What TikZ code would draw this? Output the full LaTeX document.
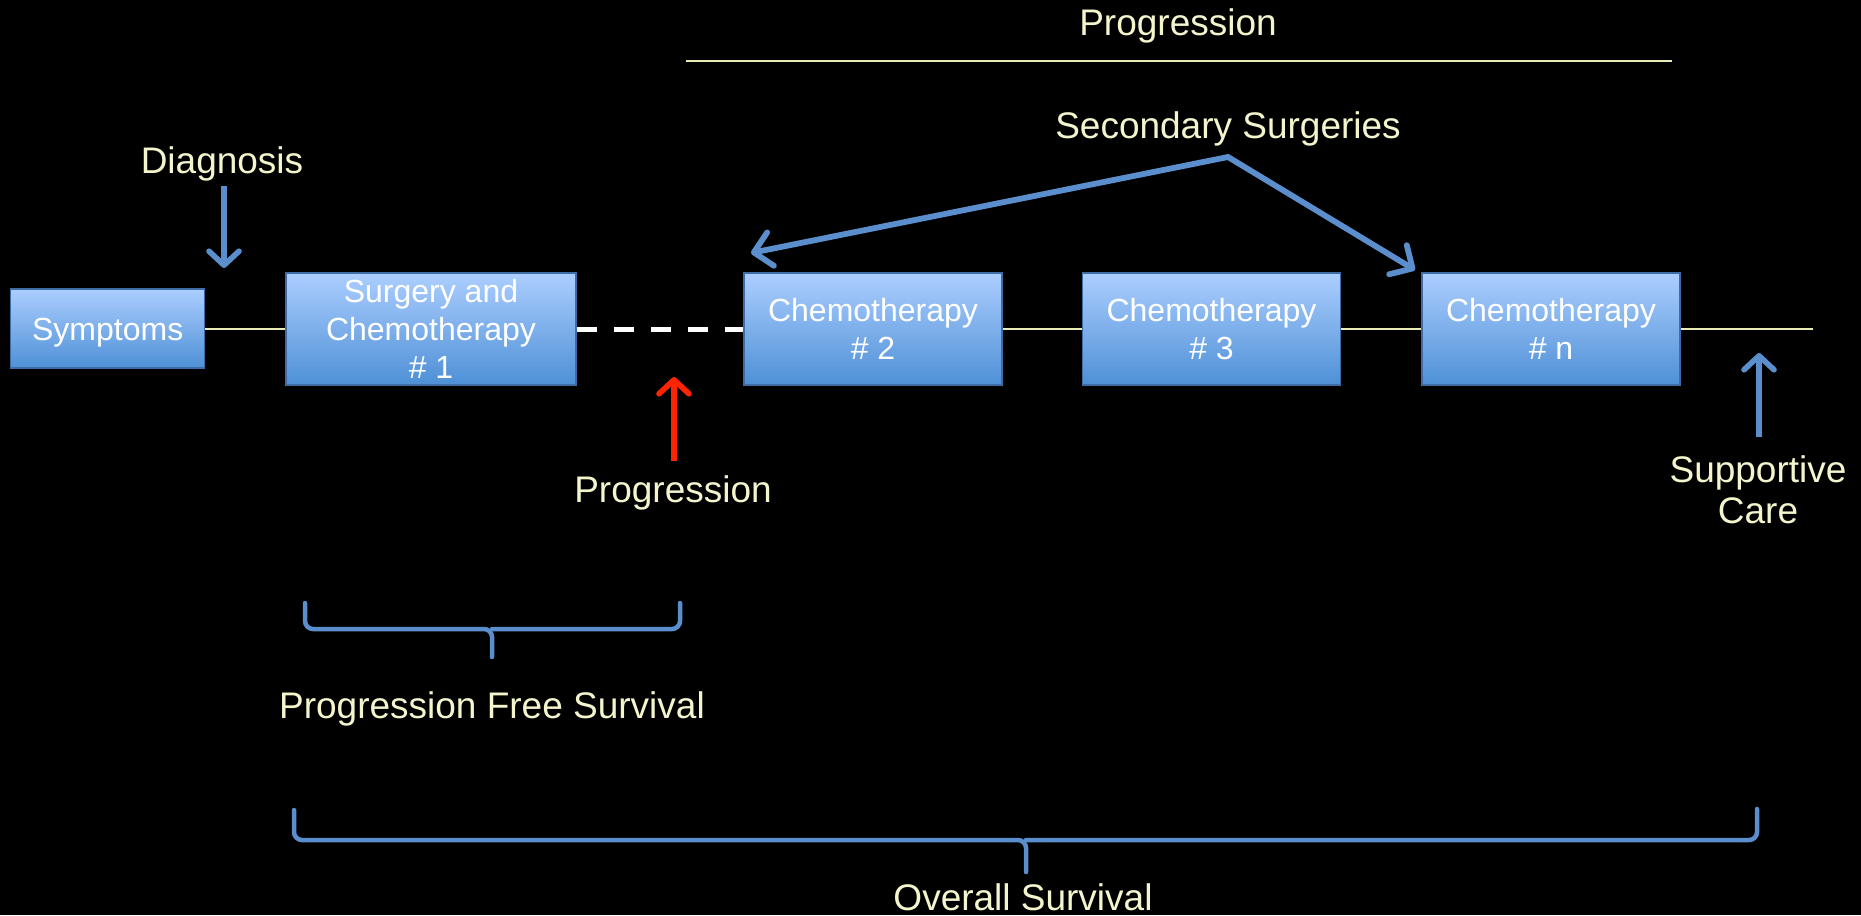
\documentclass[tikz,border=0pt]{standalone}
\usepackage{fontspec}
\setmainfont{Liberation Sans}
\usetikzlibrary{arrows.meta}
\definecolor{cream}{RGB}{245,245,205}
\definecolor{abl}{RGB}{90,142,204}
\definecolor{boxtop}{RGB}{172,206,255}
\definecolor{boxbot}{RGB}{78,144,214}
\definecolor{boxline}{RGB}{62,108,165}
\definecolor{pred}{RGB}{255,36,0}
\definecolor{tline}{RGB}{235,235,180}
\begin{document}
\begin{tikzpicture}[x=0.5pt,y=-0.5pt,
  stagebox/.style={draw=boxline, line width=0.75pt, top color=boxtop, bottom color=boxbot,
    text=white, font=\fontsize{16}{19}\selectfont, align=center, inner sep=0pt,
    minimum height=56pt, minimum width=129pt},
  lbl/.style={text=cream, font=\fontsize{18.5}{22}\selectfont, inner sep=0pt, anchor=base},
  tl/.style={draw=tline, line width=1pt},
  dashl/.style={draw=white, line width=2.5pt, dash pattern=on 10pt off 8.5pt},
  brc/.style={draw=abl, line width=2.25pt, rounded corners=4pt, line cap=round},
  smallarrow/.style={draw=abl, line width=2.8pt, -{Straight Barb[length=7pt,width=15pt,round]}},
  secarrow/.style={draw=abl, line width=2.9pt, line join=miter,
    {Straight Barb[length=8.5pt,width=17pt,round]}-{Straight Barb[length=8.5pt,width=17pt,round]}},
  redarrow/.style={draw=pred, line width=2.8pt, -{Straight Barb[length=7pt,width=15pt,round]}}
]
\useasboundingbox[fill=black] (0,0) rectangle (1861,915);

% boxes
\node[stagebox, minimum width=97pt, minimum height=39.5pt, text depth=0pt, text height=12pt] (sym) at (107.7,328.5) {Symptoms};
\node[stagebox, minimum width=145pt] (surg) at (431,329) {Surgery and\\Chemotherapy\\\# 1};
\node[stagebox] (c2) at (873,329) {Chemotherapy\\\# 2};
\node[stagebox] (c3) at (1211.5,329) {Chemotherapy\\\# 3};
\node[stagebox] (cn) at (1551,329) {Chemotherapy\\\# n};
\coordinate (lineend) at (1813,329);

% timeline connectors
\draw[tl] (sym.east |- surg.west) -- (surg.west);
\draw[dashl] (surg.east) -- (c2.west);
\draw[tl] (c2.east) -- (c3.west);
\draw[tl] (c3.east) -- (cn.west);
\draw[tl] (cn.east) -- (lineend);

% top progression
\node[lbl] (progtop) at (1178,36) {Progression};
\coordinate (tl1) at (686,61);
\coordinate (tl2) at (1672,61);
\draw[tl] (tl1) -- (tl2);

% secondary surgeries
\node[lbl] (sec) at (1228,139) {Secondary Surgeries};
\coordinate (apex) at (1228,157);
\coordinate (tipL) at (751,253);
\coordinate (tipR) at (1415,270);
\draw[secarrow] (tipL) -- (apex) -- (tipR);

% diagnosis
\node[lbl] (diag) at (222,173) {Diagnosis};
\coordinate (dA) at (224,186);
\coordinate (dB) at (224,268);
\draw[smallarrow] (dA) -- (dB);

% progression (red)
\node[lbl] (progl) at (673,502) {Progression};
\coordinate (rA) at (674,461);
\coordinate (rB) at (674,377);
\draw[redarrow] (rA) -- (rB);

% supportive care
\node[lbl] (sup1) at (1758,482) {Supportive};
\node[lbl] (sup2) at (1758,523) {Care};
\coordinate (sA) at (1759,437);
\coordinate (sB) at (1759,353);
\draw[smallarrow] (sA) -- (sB);

% PFS brace
\coordinate (p1) at (305,603);
\coordinate (p2) at (680,603);
\coordinate (pm) at (492,629);
\coordinate (pt) at (492,657);
\draw[brc] (p1) -- (p1 |- pm) -- (pm) -- (pt);
\draw[brc] (p2) -- (p2 |- pm) -- (pm);
\node[lbl] (pfs) at (492,718.5) {Progression Free Survival};

% OS brace
\coordinate (o1) at (294,810);
\coordinate (o2) at (1757,809);
\coordinate (om) at (1026,840);
\coordinate (ot) at (1026,872);
\draw[brc] (o1) -- (o1 |- om) -- (om) -- (ot);
\draw[brc] (o2) -- (o2 |- om) -- (om);
\node[lbl] (os) at (1023,910) {Overall Survival};
\end{tikzpicture}
\end{document}
